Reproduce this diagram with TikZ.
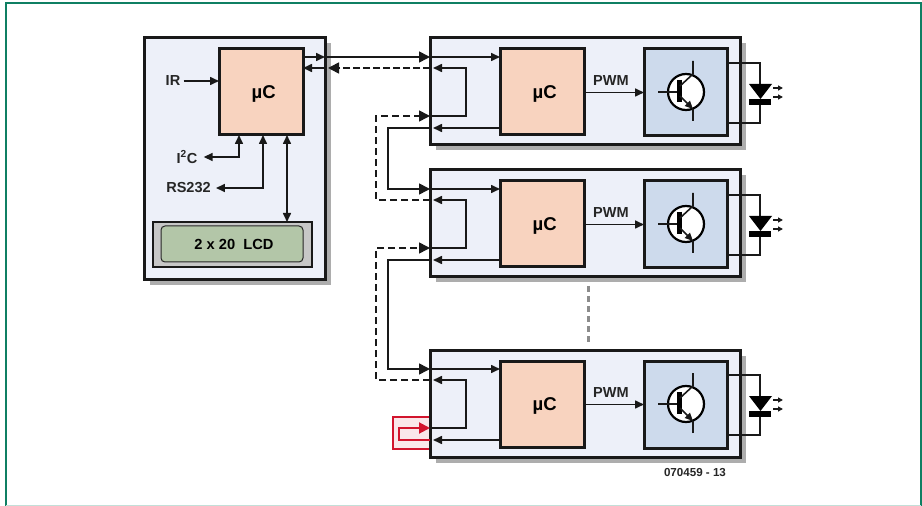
\documentclass[tikz,border=0pt]{standalone}
\usepackage{fontspec}
\setmainfont{Liberation Sans}
\usetikzlibrary{arrows.meta, calc, positioning, shadows}
\definecolor{framegreen}{HTML}{0F7F63}
\definecolor{boxblue}{HTML}{EDF0F9}
\definecolor{ucpink}{HTML}{F8D3BF}
\definecolor{drvblue}{HTML}{CDDAEC}
\definecolor{lcdgreen}{HTML}{B3C6A8}
\definecolor{sigred}{HTML}{D2142D}
\def\px{0.75pt}
\tikzset{
    boxnode/.style={draw=black!90, line width=3*\px, outer sep=0pt, inner sep=0pt},
    module/.style={boxnode, fill=boxblue, minimum width=310*\px, minimum height=107*\px,
        drop shadow={shadow xshift=5.5*\px, shadow yshift=-5.5*\px, fill=black!32, opacity=1}},
    ucbox/.style={boxnode, fill=ucpink, minimum width=84*\px, minimum height=86*\px, text depth=0pt, font=\fontsize{13.9}{16}\selectfont\bfseries},
    drvbox/.style={boxnode, fill=drvblue, minimum width=83*\px, minimum height=87*\px},
    wire/.style={line width=1.6*\px, black!90},
    tip/.style={-{Triangle[length=9*\px, width=8*\px]}},
    bigtip/.style={-{Triangle[length=11*\px, width=11*\px]}},
    bothtip/.style={{Triangle[length=9*\px, width=8*\px]}-{Triangle[length=9*\px, width=8*\px]}},
    lbl/.style={font=\fontsize{10.9}{13}\selectfont\bfseries, text=black!85, inner sep=0pt},
}
\begin{document}
\begin{tikzpicture}[x=0.75pt, y=-0.75pt]
    % 边框
    \useasboundingbox (0, 0) rectangle (922, 506);
    \draw[framegreen, line width=2.5*\px] (6, 506) -- (6, 3) -- (921, 3) -- (921, 506);
    \draw[framegreen!25, line width=1*\px] (6, 505.5) -- (921, 505.5);

    % 左侧控制板
    \node[boxnode, fill=boxblue, minimum width=181*\px, minimum height=242*\px,
        drop shadow={shadow xshift=5.5*\px, shadow yshift=-5.5*\px, fill=black!32, opacity=1}] (ctrl) at (234.5, 159) {};
    \node[ucbox] (uc) at (261, 92) {\hspace*{4pt}µC};
    \node[boxnode, fill=black!22, line width=2.2*\px, minimum width=159*\px, minimum height=45*\px] (lcd) at (232.5, 244.5) {};
    \node[draw=black!85, line width=1*\px, rounded corners=4*\px, fill=lcdgreen, minimum width=142*\px, minimum height=36*\px,
        font=\fontsize{11}{13}\selectfont\bfseries, inner sep=0pt] (lcdtxt) at (232, 244) {\hspace*{3pt}2 x 20\ \ LCD};

    % 左侧标签
    \node[lbl] (ir) at (173, 81) {IR};
    \node[lbl] (iic) at (187, 157) {I\textsuperscript{2}C};
    \node[lbl] (rs) at (188.5, 188) {RS232};

    % 左侧连线
    \draw[wire, tip] (ir.east) ++(3, 0) -- (uc.west |- ir);
    \coordinate (ia) at (239, 135);
    \coordinate (ib) at (263, 135);
    \coordinate (ic) at (287, 135);
    \draw[wire, bothtip] (ia) |- ($(iic.east)+(6, 0)$);
    \draw[wire, bothtip] (ib) |- ($(rs.east)+(5, 0)$);
    \draw[wire, bothtip] (ic) -- (ic |- lcd.north);

    % 红色回路
    \node[draw=sigred, line width=1.5*\px, fill=sigred!10, minimum width=37*\px, minimum height=32*\px, inner sep=0pt, outer sep=0pt] (loop) at (411.5, 433) {};

    % 三个模块
    \foreach \n/\dy in {a/0, b/132, c/312} {
        \node[module] (mod\n) at (585, 91.5+\dy) {};
        \node[ucbox] (uc\n) at (542, 92+\dy) {\hspace*{4pt}µC};
        \node[drvbox] (drv\n) at (685.5, 92.5+\dy) {};

        % 端口
        \coordinate (pa\n) at (430, 57+\dy);
        \coordinate (pb\n) at (430, 68+\dy);
        \coordinate (pc\n) at (430, 116+\dy);
        \coordinate (pd\n) at (430, 128+\dy);

        % 模块内连线
        \draw[wire, tip] (pa\n) -- (uc\n.west |- pa\n);
        \draw[wire, tip] (uc\n.west |- pd\n) -- ($(pd\n)+(3, 0)$);
        \draw[wire, tip] (pc\n) -| (466, 68+\dy) -- ($(pb\n)+(3, 0)$);
        \draw[wire, tip] (uc\n.east |- drv\n) -- (drv\n.west);
        \node[lbl] (pwm\n) at (611, 81+\dy) {PWM};

        % 三极管
        \node[circle, draw=black, fill=white, line width=2.2*\px, minimum size=36*\px, inner sep=0pt] (tr\n) at (686, 92+\dy) {};
        \coordinate (co\n) at (693, 61+\dy);
        \coordinate (em\n) at (693, 121+\dy);
        \draw[wire] (658, 92+\dy) -- (679, 92+\dy);
        \draw[line width=5*\px] (679.5, 80+\dy) -- (679.5, 102+\dy);
        \draw[wire] (co\n) -- (693, 74+\dy) -- (680, 86+\dy);
        \draw[wire] (em\n) -- (693, 109+\dy);
        \draw[wire, -{Triangle[length=8*\px, width=7*\px]}] (680, 96+\dy) -- (693, 109+\dy);

        % LED
        \coordinate (la\n) at (727, 63+\dy);
        \coordinate (lb\n) at (727, 123+\dy);
        \draw[wire] (la\n) -| (760, 84+\dy);
        \draw[wire] (lb\n) -| (760, 105+\dy);
        \fill[black] (749, 84+\dy) -- (772, 84+\dy) -- (760.5, 99+\dy) -- cycle;
        \fill[black] (749, 99+\dy) rectangle (771, 105+\dy);
        \draw[wire, -{Triangle[length=5*\px, width=5*\px]}] (773, 88+\dy) -- (783, 88+\dy);
        \draw[wire, -{Triangle[length=5*\px, width=5*\px]}] (773, 97+\dy) -- (783, 97+\dy);
    }

    % 控制板到模块 a
    \coordinate (ua) at (325, 57);
    \coordinate (ub) at (325, 68);
    \draw[wire, tip] (uc.east |- ua) -- (ua);
    \draw[wire, bigtip] (ua) -- (paa);
    \draw[wire, tip] (ub) -- (uc.east |- ub);
    \draw[wire, dash pattern=on 7*\px off 3*\px, bigtip] (pba) -- ($(ub)+(3, 0)$);

    % 模块之间
    \draw[wire, dash pattern=on 7*\px off 4*\px, bigtip] (pbb) -| (376, 116) -- (pca);
    \draw[wire, bigtip] (pda) -| (388, 189) -- (pab);
    \draw[wire, dash pattern=on 7*\px off 4*\px, bigtip] (pbc) -| (376, 248) -- (pcb);
    \draw[wire, bigtip] (pdb) -| (388, 369) -- (pac);

    % 红色箭头
    \draw[sigred, line width=2*\px, -{Triangle[length=11*\px, width=11*\px]}] (pdc) -| (399, 428) -- (pcc);

    % 省略号
    \draw[black!45, line width=3*\px, dash pattern=on 6*\px off 4*\px] (588, 286) -- (588, 342);

    \node[font=\fontsize{8.7}{10}\selectfont\bfseries, text=black!85, inner sep=0pt] (code) at (695, 473) {070459 - 13};
\end{tikzpicture}
\end{document}
